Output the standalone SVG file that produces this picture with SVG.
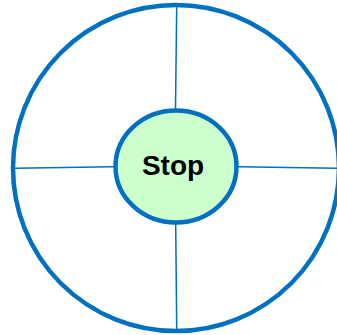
<svg xmlns="http://www.w3.org/2000/svg" width="337" height="335" viewBox="0 0 337 335">
<style>
.ring{fill:#ffffff;stroke:#0070c0;stroke-width:4.5}
.hub{fill:#ccffcc;stroke:#0070c0;stroke-width:4.5}
.spoke{stroke:#0070c0;stroke-width:1.5;fill:none}
.lbl{font-family:"Liberation Sans",Arial,sans-serif;font-weight:bold;font-size:28px;fill:#000}
</style>
<rect width="337" height="335" fill="#ffffff"/>
<g id="outer"><circle class="ring" cx="176" cy="168" r="163"/></g>
<g id="connectors">
<line class="spoke" x1="176.7" y1="7" x2="175.5" y2="109"/>
<line class="spoke" x1="175.7" y1="224" x2="176.7" y2="329"/>
<line class="spoke" x1="15" y1="168.3" x2="114" y2="166.7"/>
<line class="spoke" x1="238" y1="166.7" x2="337" y2="168.3"/>
</g>
<g id="stop">
<ellipse class="hub" cx="176" cy="166.5" rx="60.5" ry="56"/>
<text class="lbl" x="173" y="175" text-anchor="middle">Stop</text>
</g>
</svg>
